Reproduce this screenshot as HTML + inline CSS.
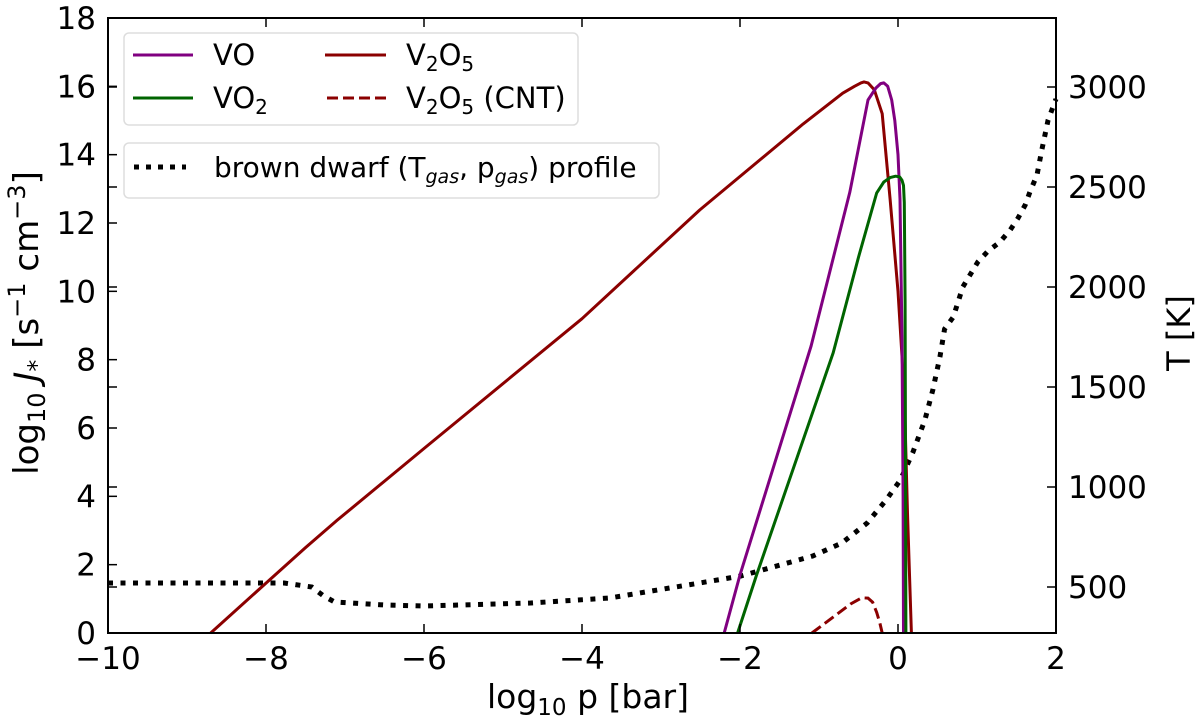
<!DOCTYPE html>
<html><head><meta charset="utf-8"><style>
html,body{margin:0;padding:0;background:#fff;}
svg{display:block;font-family:"DejaVu Sans","Liberation Sans",sans-serif;}
</style></head><body>
<svg id="chart" width="1200" height="725" viewBox="0 0 1200 725" xmlns="http://www.w3.org/2000/svg">
<g id="plot"></g>
<g id="axes"></g>
<g id="legend1">
  <rect x="124" y="33" width="454" height="92" rx="5" fill="#fff" stroke="#ddd" stroke-width="1.5"/>
  <line x1="133" y1="55" x2="193" y2="55" stroke="#800080" stroke-width="3"/>
  <text x="213" y="65" font-size="29">VO</text>
  <line x1="133" y1="98" x2="193" y2="98" stroke="#006400" stroke-width="3"/>
  <text x="213" y="108" font-size="29">VO<tspan font-size="20" dy="6">2</tspan></text>
  <line x1="325" y1="55" x2="386" y2="55" stroke="#8b0000" stroke-width="3"/>
  <text x="406" y="65" font-size="29">V<tspan font-size="20" dy="6">2</tspan><tspan dy="-6">O</tspan><tspan font-size="20" dy="6">5</tspan></text>
  <line x1="327" y1="98" x2="386" y2="98" stroke="#8b0000" stroke-width="3" stroke-dasharray="11,5"/>
  <text x="406" y="108" font-size="29">V<tspan font-size="20" dy="6">2</tspan><tspan dy="-6">O</tspan><tspan font-size="20" dy="6">5</tspan><tspan dy="-6"> (CNT)</tspan></text>
</g>
<g id="legend2">
  <rect x="124" y="143" width="535" height="55" rx="5" fill="#fff" stroke="#ddd" stroke-width="1.5"/>
  <line x1="134" y1="167" x2="186" y2="167" stroke="#000" stroke-width="5" stroke-dasharray="5,7"/>
  <text x="214" y="177" font-size="28">brown dwarf (T<tspan font-size="19" dy="6" font-style="italic">gas</tspan><tspan dy="-6">, p</tspan><tspan font-size="19" dy="6" font-style="italic">gas</tspan><tspan dy="-6">) profile</tspan></text>
</g>
</svg>
<script>
// data
const voP = [-2.2,-2.0,-1.1,-0.61,-0.38,-0.28,-0.22,-0.18,-0.13,-0.08,-0.04,0.0,0.025,0.05,0.065,0.07];
const voJ = [0,1.7,8.4,12.9,15.6,15.95,16.08,16.1,16.0,15.6,15.0,14.0,12.7,8.6,4.0,0];
const vo2P = [-2.03,-1.79,-0.82,-0.5,-0.27,-0.18,-0.1,-0.03,0.02,0.05,0.07,0.08,0.09,0.095,0.1];
const vo2J = [0,1.7,8.2,11.0,12.88,13.2,13.33,13.37,13.35,13.25,13.1,12.6,9.7,5,0];
const v2o5P = [-8.7,-8.0,-7.5,-7.1,-6.0,-4.0,-2.51,-1.2,-0.7,-0.55,-0.47,-0.43,-0.38,-0.3,-0.2,-0.1,0.0,0.08,0.12,0.17];
const v2o5J = [0,1.46,2.5,3.3,5.4,9.2,12.38,14.9,15.8,16.0,16.1,16.13,16.1,15.9,15.2,12.7,10.0,7.0,3.5,0];
const cntP = [-1.09,-0.8,-0.6,-0.46,-0.38,-0.32,-0.27,-0.23,-0.2];
const cntJ = [0,0.5,0.85,1.03,1.02,0.9,0.6,0.3,0];
const profP = [-10,-8.5,-7.77,-7.42,-7.27,-7.13,-6.5,-5.99,-4.65,-3.65,-2.51,-1.99,-1.49,-1.08,-0.71,-0.39,-0.15,0.03,0.19,0.34,0.44,0.53,0.59,0.7,0.82,1.01,1.14,1.29,1.42,1.52,1.61,1.67,1.76,1.82,1.9,2.0];
const profT = [520,520,520,500,455,425,410,405,420,445,520,555,610,655,720,820,935,1035,1175,1335,1485,1650,1790,1850,2000,2125,2180,2225,2285,2345,2410,2475,2560,2685,2835,2940];
const xTicks = [-10,-8,-6,-4,-2,0,2];
const xTickLabels = ["\u221210","\u22128","\u22126","\u22124","\u22122","0","2"];
const yTicks = [0,2,4,6,8,10,12,14,16,18];
const tTicks = [500,1000,1500,2000,2500,3000];

const L=108,R=1056,T=18,B=633;
const xs = p => L + (p+10)*(R-L)/12;
const ys = j => B - j*(B-T)/18;
const ts = t => 587 - (t-500)*0.2;
const NS="http://www.w3.org/2000/svg";
function mk(tag, attrs, parent){const e=document.createElementNS(NS,tag);for(const k in attrs)e.setAttribute(k,attrs[k]);parent.appendChild(e);return e;}
const plot=document.getElementById('plot'), axes=document.getElementById('axes');
function path(px,py,f){return px.map((p,i)=>(i?'L':'M')+xs(p).toFixed(1)+','+f(py[i]).toFixed(1)).join(' ');}

let e;
e=mk('path',{d:path(profP,profT,ts),fill:'none',stroke:'#000','stroke-width':5,'stroke-dasharray':'5,7.5'},plot);


e=mk('path',{d:path(v2o5P,v2o5J,ys),fill:'none',stroke:'#8b0000','stroke-width':3,'stroke-linejoin':'round'},plot);


e=mk('path',{d:path(voP,voJ,ys),fill:'none',stroke:'#800080','stroke-width':3,'stroke-linejoin':'round'},plot);


e=mk('path',{d:path(vo2P,vo2J,ys),fill:'none',stroke:'#006400','stroke-width':3,'stroke-linejoin':'round'},plot);


e=mk('path',{d:path(cntP,cntJ,ys),fill:'none',stroke:'#8b0000','stroke-width':3,'stroke-dasharray':'11,5'},plot);



e=mk('rect',{x:L,y:T,width:R-L,height:B-T,fill:'none',stroke:'#000','stroke-width':2},axes);



xTicks.forEach((v,i)=>{
  const x=xs(v);
  mk('line',{x1:x,y1:B,x2:x,y2:B-9,stroke:'#000','stroke-width':1.5},axes);
  mk('line',{x1:x,y1:T,x2:x,y2:T+9,stroke:'#000','stroke-width':1.5},axes);
  const t=mk('text',{x:x,y:B+36,'font-size':31,'text-anchor':'middle'},axes);
  t.textContent=xTickLabels[i];
  
  
});
yTicks.forEach(v=>{
  const y=ys(v);
  mk('line',{x1:L,y1:y,x2:L+9,y2:y,stroke:'#000','stroke-width':1.5},axes);
  const t=mk('text',{x:L-12,y:y+11,'font-size':31,'text-anchor':'end'},axes);
  t.textContent=v;
  
  
});
tTicks.forEach(v=>{
  const y=ts(v);
  mk('line',{x1:R,y1:y,x2:R-9,y2:y,stroke:'#000','stroke-width':1.5},axes);
  mk('line',{x1:L,y1:y,x2:L+9,y2:y,stroke:'#000','stroke-width':1.5},axes);
  const t=mk('text',{x:R+12,y:y+11,'font-size':31,'text-anchor':'start'},axes);
  t.textContent=v;
  
  
});
let lab=mk('text',{x:588,y:708,'font-size':33,'text-anchor':'middle'},axes);
lab.innerHTML='log<tspan font-size="23" dy="7">10</tspan><tspan dy="-7"> p [bar]</tspan>';


lab=mk('text',{x:0,y:0,'font-size':34,'text-anchor':'middle',transform:'translate(38,323) rotate(-90)'},axes);
lab.innerHTML='log<tspan font-size="24" dy="7">10</tspan><tspan dy="-7" font-style="italic"> J</tspan><tspan font-size="24" dy="7">*</tspan><tspan dy="-7"> [s</tspan><tspan font-size="24" dy="-13">\u22121</tspan><tspan dy="13"> cm</tspan><tspan font-size="24" dy="-13">\u22123</tspan><tspan dy="13">]</tspan>';


lab=mk('text',{x:0,y:0,'font-size':32,'text-anchor':'middle',transform:'translate(1190,333) rotate(-90)'},axes);
lab.textContent='T [K]';


</script>
</body></html>
